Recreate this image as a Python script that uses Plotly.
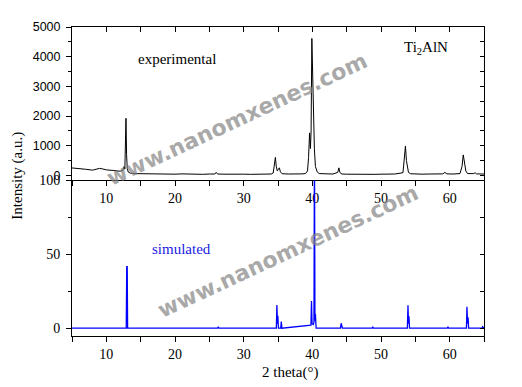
import plotly.graph_objects as go

# ---------------- data ----------------
exp_2theta = [5.0, 6.0, 7.0, 8.0, 8.5, 9.0, 9.5, 10.0, 11.0, 12.0, 12.4, 12.55, 12.7, 12.8, 12.86, 12.95, 13.05, 13.2, 13.5,
              14.0, 15.0, 16.0, 17.0, 18.0, 19.0, 20.0, 21.0, 22.0, 23.0, 24.0, 25.0, 25.8, 26.0, 26.2, 27.0, 28.0, 29.0,
              30.0, 31.0, 32.0, 33.0, 34.0, 34.3, 34.5, 34.62, 34.75, 34.9, 35.05, 35.2, 35.35, 35.6, 36.5, 37.5, 38.5,
              39.0, 39.3, 39.45, 39.6, 39.72, 39.82, 39.93, 40.05, 40.17, 40.3, 40.45, 40.7, 41.0, 42.0, 43.0, 43.7,
              43.87, 44.0, 44.3, 45.0, 46.0, 47.0, 48.0, 49.0, 50.0, 51.0, 52.0, 53.2, 53.4, 53.56, 53.7, 53.85, 54.0,
              54.3, 55.0, 56.0, 57.0, 58.0, 59.0, 59.3, 59.6, 60.5, 61.5, 61.8, 61.98, 62.15, 62.35, 62.6, 63.5, 63.7,
              63.9, 65.0]
exp_intensity = [250, 235, 205, 175, 195, 235, 215, 185, 165, 140, 165, 290, 210, 900, 1925, 700, 220, 110, 75,
                 60, 55, 45, 50, 40, 45, 40, 50, 40, 45, 35, 45, 45, 100, 45, 40, 45, 35,
                 40, 35, 40, 35, 45, 80, 400, 605, 300, 150, 200, 255, 120, 55, 45, 40, 50,
                 60, 150, 600, 1430, 900, 1500, 4615, 3200, 2165, 900, 300, 120, 60, 50, 45, 100,
                 254, 100, 45, 40, 35, 40, 40, 35, 40, 35, 45, 90, 500, 990, 500, 200, 100,
                 55, 45, 40, 45, 40, 50, 100, 50, 45, 60, 300, 690, 450, 150, 60, 60, 90,
                 50, 45]

sim_2theta = [5.0, 12.9, 12.97, 13.04, 13.1, 26.2, 26.3, 26.4, 34.76, 34.84, 34.92, 34.98, 35.06, 35.4, 35.48, 35.56,
              39.8, 39.88, 39.96, 40.05, 40.15, 40.24, 40.31, 40.38, 40.45, 40.55, 44.1, 44.2, 44.3, 44.38,
              48.7, 48.8, 48.9, 53.84, 53.93, 54.0, 54.07, 54.15, 59.65, 59.75, 59.85, 62.44, 62.52, 62.6, 62.68,
              62.76, 64.7, 64.8, 64.9, 65.0]
sim_intensity = [0, 0, 41.6, 41.6, 0, 0, 1, 0, 0, 15.7, 3, 8.4, 0, 0, 4.4, 0,
                 2, 18.4, 3, 2.5, 2.5, 4, 130, 5, 9.5, 0, 0, 3.3, 2, 0,
                 0, 1, 0, 0, 15.5, 3, 8, 0, 0, 1, 0, 0, 14.4, 3, 7.3,
                 0, 0, 1, 0, 0]

x_range = [5, 65]
exp_range = [-165, 5000]
sim_range = [-5.3, 100]

serif = "Liberation Serif, Times New Roman, serif"
sans = "Liberation Sans, Arial, sans-serif"

fig = go.Figure()
fig.add_trace(go.Scatter(x=exp_2theta, y=exp_intensity, mode="lines",
                         line=dict(color="black", width=1), xaxis="x", yaxis="y",
                         showlegend=False, hoverinfo="skip"))
fig.add_trace(go.Scatter(x=sim_2theta, y=sim_intensity, mode="lines",
                         line=dict(color="#0000ff", width=1.3), xaxis="x2", yaxis="y2",
                         showlegend=False, hoverinfo="skip"))
# empty traces to host the mirror (inward tick) axes
fig.add_trace(go.Scatter(x=[], y=[], xaxis="x3", yaxis="y3", showlegend=False))
fig.add_trace(go.Scatter(x=[], y=[], xaxis="x2", yaxis="y4", showlegend=False))

common_line = dict(showline=True, linecolor="black", linewidth=1, showgrid=False, zeroline=False)
split = 0.504

fig.update_layout(
    width=514, height=379,
    margin=dict(l=64, r=38, t=12, b=51),
    paper_bgcolor="white", plot_bgcolor="white",
    xaxis=dict(domain=[0, 1], anchor="y", range=x_range, tick0=0, dtick=10,
               ticks="outside", ticklen=5, tickcolor="black",
               minor=dict(dtick=5, tick0=0, ticks="outside", ticklen=5, tickcolor="black"),
               tickfont=dict(family=serif, size=14, color="black"), **common_line),
    xaxis3=dict(overlaying="x", anchor="y", side="top", range=x_range, tick0=0, dtick=5,
                ticks="inside", ticklen=5, tickcolor="black", showticklabels=False, **common_line),
    yaxis=dict(domain=[split, 1], anchor="x", range=exp_range, tick0=0, dtick=1000,
               ticks="outside", ticklen=5, tickcolor="black", ticklabelstandoff=3,
               minor=dict(dtick=500, tick0=0, ticks="outside", ticklen=3, tickcolor="black"),
               tickfont=dict(family=sans, size=12.5, color="black"), **common_line),
    yaxis3=dict(overlaying="y", anchor="x3", side="right", range=exp_range, tick0=0, dtick=500,
                ticks="inside", ticklen=4, tickcolor="black", showticklabels=False, **common_line),
    xaxis2=dict(domain=[0, 1], anchor="y2", range=x_range, tick0=0, dtick=10,
                ticks="outside", ticklen=5, tickcolor="black",
                minor=dict(dtick=5, tick0=0, ticks="outside", ticklen=5, tickcolor="black"),
                tickfont=dict(family=serif, size=14, color="black"), **common_line),
    yaxis2=dict(domain=[0, split], anchor="x2", range=sim_range, tick0=0, dtick=50,
                ticks="outside", ticklen=5, tickcolor="black", ticklabelstandoff=3,
                minor=dict(dtick=25, tick0=0, ticks="outside", ticklen=3, tickcolor="black"),
                tickfont=dict(family=serif, size=14, color="black"), **common_line),
    yaxis4=dict(overlaying="y2", anchor="x2", side="right", range=sim_range, tick0=0, dtick=25,
                ticks="inside", ticklen=4, tickcolor="black", showticklabels=False, **common_line),
)

def pos(px, py):
    # screen pixel (reference picture) -> paper coords; page has an 8px body offset
    x0, x1 = 72.0, 484.0
    y0, y1 = 20.0, 336.0
    return (px - x0) / (x1 - x0), (y1 - py) / (y1 - y0)

ann = []
def add(text, px, py, font, angle=0):
    x, y = pos(px, py)
    ann.append(dict(text=text, x=x, y=y, xref="paper", yref="paper", showarrow=False,
                    xanchor="center", yanchor="middle", textangle=angle, font=font))

add("experimental", 177, 53, dict(family=serif, size=15, color="black"))
add("Ti<sub>2</sub>AlN", 426, 41, dict(family=serif, size=15, color="black"))
add("simulated", 181, 247, dict(family=serif, size=15, color="#1a1ae0"))
add("Intensity (a.u.)", 18, 172, dict(family=serif, size=15, color="black"), -90)
add("2 theta(°)", 290, 373, dict(family=serif, size=15, color="black"))
for cx, cy in [(237, 115), (288, 250)]:
    add("<b>www.nanomxenes.com</b>", cx, cy,
        dict(family="DejaVu Sans", size=22, color="rgba(130,130,130,0.7)"), -25)
fig.update_layout(annotations=ann)

fig.write_html("out.html")
